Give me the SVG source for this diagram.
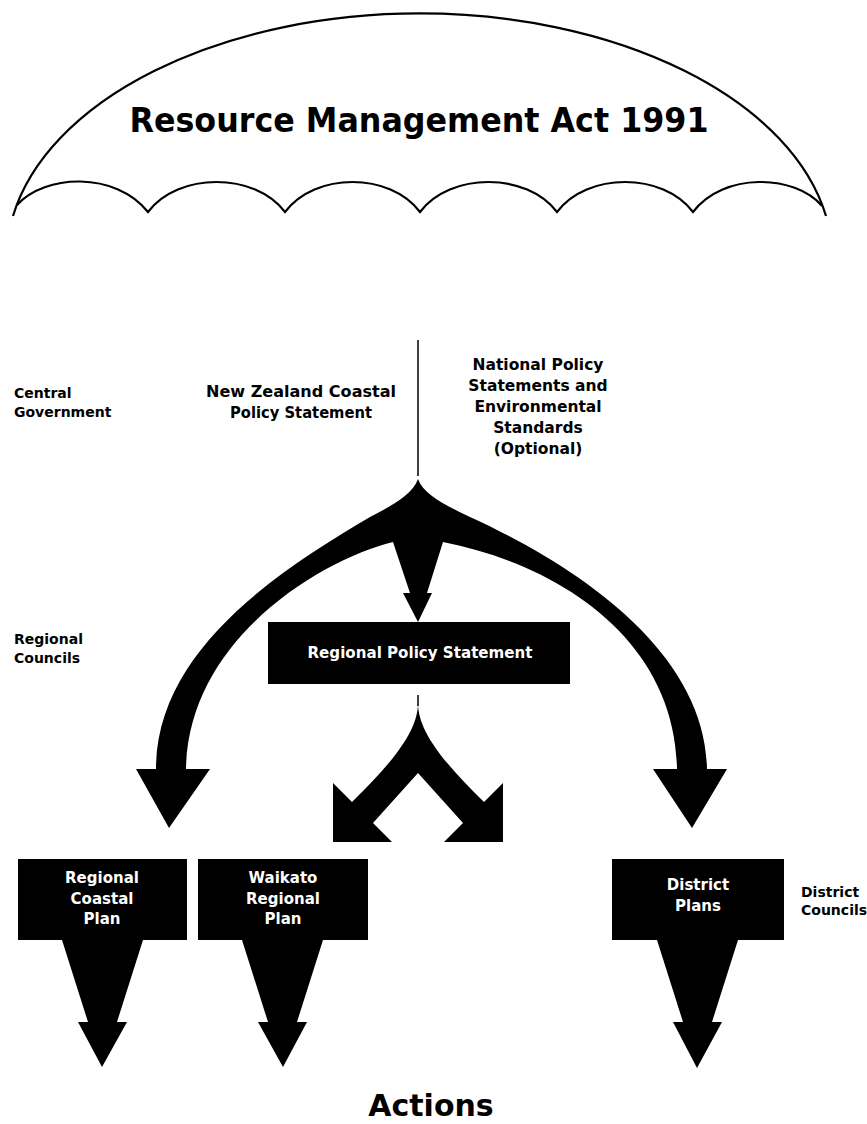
<svg xmlns="http://www.w3.org/2000/svg" width="867" height="1124" viewBox="0 0 867 1124">
<style>
text { font-family: "DejaVu Sans", "Liberation Sans", sans-serif; font-weight: bold; }
.lbl { font-size: 14px; fill: #000; }
.mid { font-size: 15.5px; fill: #000; text-anchor: middle; }
.bx { font-size: 15px; fill: #fff; text-anchor: middle; }
.box { fill: #000; }
.arr { fill: #000; stroke: none; }
.ln { stroke: #000; stroke-width: 1.5; fill: none; }
.umb { stroke: #000; stroke-width: 2.2; fill: none; stroke-linejoin: miter; }
</style>
<rect width="867" height="1124" fill="#fff"/>

<g id="umbrella">
  <path class="umb" d="M13,216 A413,246 0 0 1 826,216"/>
  <path class="umb" d="M17,205 C45,174 115,171 148,212 C178,172 255,172 285,212 C315,172 390,172 420,212 C450,172 527,172 557,212 C587,172 663,172 693,212 C723,172 795,174 822,206"/>
  <text x="419" y="132" font-size="33" text-anchor="middle" textLength="579" lengthAdjust="spacingAndGlyphs">Resource Management Act 1991</text>
</g>

<g id="connectors">
  <line class="ln" x1="418" y1="340" x2="418" y2="476"/>
  <path class="arr" d="M418,479 C424,495 445,505 470,517 C575,565 705,650 707,769 L727,769 L692,828 L653,769 L677,769 C675,640 560,565 443,542 L427,593 L432,593 L418,622 L403,593 L410,593 L393,542 C320,560 188,640 186,769 L210,769 L169,828 L136,769 L156,769 C156,650 280,570 370,517 C393,505 412,495 418,479 Z"/>
  <line class="ln" x1="418" y1="695" x2="418" y2="706"/>
  <path class="arr" d="M418,703 C418,730 395,760 352,802 L333,783 L333,842 L392,842 L373,823 L418,773 L463,823 L444,842 L503,842 L503,783 L484,802 C441,760 418,730 418,703 Z"/>
  <path class="arr" d="M62,940 L143,940 L117,1022 L127,1022 L102,1067 L78,1022 L88,1022 Z"/>
  <path class="arr" d="M242,940 L323,940 L297,1022 L307,1022 L283,1067 L258,1022 L268,1022 Z"/>
  <path class="arr" d="M657,940 L738,940 L712,1022 L722,1022 L697,1068 L673,1022 L683,1022 Z"/>
</g>

<g id="label-central-government">
  <text class="lbl" x="14" y="398">Central</text>
  <text class="lbl" x="14" y="417">Government</text>
</g>

<g id="node-nz-coastal">
  <text class="mid" x="301" y="397" textLength="190" lengthAdjust="spacingAndGlyphs">New Zealand Coastal</text>
  <text class="mid" x="301" y="418" textLength="142" lengthAdjust="spacingAndGlyphs">Policy Statement</text>
</g>

<g id="node-national-policy">
  <text class="mid" x="538" y="370">National Policy</text>
  <text class="mid" x="538" y="391">Statements and</text>
  <text class="mid" x="538" y="412">Environmental</text>
  <text class="mid" x="538" y="433">Standards</text>
  <text class="mid" x="538" y="454">(Optional)</text>
</g>

<g id="label-regional-councils">
  <text class="lbl" x="14" y="644">Regional</text>
  <text class="lbl" x="14" y="663">Councils</text>
</g>

<g id="node-regional-policy">
  <rect class="box" x="268" y="622" width="302" height="62"/>
  <text class="bx" x="420" y="658" textLength="225" lengthAdjust="spacingAndGlyphs">Regional Policy Statement</text>
</g>

<g id="node-regional-coastal">
  <rect class="box" x="18" y="859" width="169" height="81"/>
  <text class="bx" x="102" y="883">Regional</text>
  <text class="bx" x="102" y="904">Coastal</text>
  <text class="bx" x="102" y="924">Plan</text>
</g>

<g id="node-waikato">
  <rect class="box" x="198" y="859" width="170" height="81"/>
  <text class="bx" x="283" y="883">Waikato</text>
  <text class="bx" x="283" y="904">Regional</text>
  <text class="bx" x="283" y="924">Plan</text>
</g>

<g id="node-district">
  <rect class="box" x="612" y="859" width="172" height="81"/>
  <text class="bx" x="698" y="890">District</text>
  <text class="bx" x="698" y="911">Plans</text>
</g>

<g id="label-district-councils">
  <text class="lbl" x="801" y="897" font-size="13.5">District</text>
  <text class="lbl" x="801" y="915" font-size="13.5">Councils</text>
</g>

<g id="label-actions">
  <text x="431" y="1116" font-size="30" text-anchor="middle" fill="#000">Actions</text>
</g>
</svg>
